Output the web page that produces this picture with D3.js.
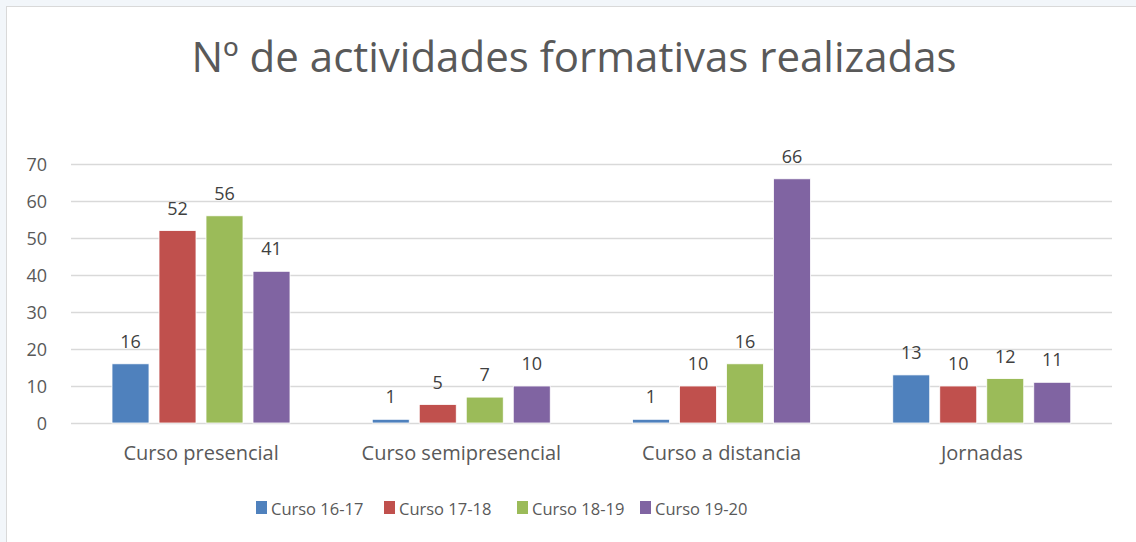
<!DOCTYPE html>
<html>
<head>
<meta charset="utf-8">
<script src="https://cdn.jsdelivr.net/npm/d3@7"></script>
<style>
body { margin:0; padding:0; background:#f2f6fa; }
svg text { font-family: "Open Sans", "Liberation Sans", sans-serif; }
</style>
</head>
<body>
<div id="chart"></div>
<script>
// data
var categories = ["Curso presencial", "Curso semipresencial", "Curso a distancia", "Jornadas"];
var seriesNames = ["Curso 16-17", "Curso 17-18", "Curso 18-19", "Curso 19-20"];
var curso1617 = [16, 1, 1, 13];
var curso1718 = [52, 5, 10, 10];
var curso1819 = [56, 7, 16, 12];
var curso1920 = [41, 10, 66, 11];
var yTicks = [0, 10, 20, 30, 40, 50, 60, 70];
var colors = ["#4f81bd", "#c0504d", "#9bbb59", "#8064a2"];

var allSeries = [curso1617, curso1718, curso1819, curso1920];

var W = 1136, H = 542;
var svg = d3.select("#chart").append("svg")
  .attr("width", W).attr("height", H)
  .style("display", "block");

// white chart area with gray border
svg.append("rect")
  .attr("x", 6.5).attr("y", 6.5)
  .attr("width", W).attr("height", H)
  .attr("fill", "white")
  .attr("stroke", "#d9d9d9");

svg.append("text")
  .attr("x", 574).attr("y", 72)
  .attr("text-anchor", "middle")
  .attr("font-size", "42px")
  .attr("fill", "#595959")
  .text("Nº de actividades formativas realizadas");

var plotLeft = 71, plotRight = 1112, plotTop = 164, plotBottom = 423;

var x0 = d3.scaleBand().domain(categories).range([plotLeft, plotRight]);
var x1 = d3.scaleBand().domain(seriesNames)
  .range([41, 219]).paddingInner(0.213);
var y = d3.scaleLinear().domain([0, 70]).range([plotBottom, plotTop]);

// gridlines
svg.append("g").selectAll("line")
  .data(yTicks)
  .enter().append("line")
  .attr("x1", plotLeft).attr("x2", plotRight)
  .attr("y1", function(d){ return Math.round(y(d)) + 0.5; })
  .attr("y2", function(d){ return Math.round(y(d)) + 0.5; })
  .attr("stroke", "#d9d9d9")
  .attr("stroke-width", 1.5);

// y tick labels
svg.append("g").selectAll("text")
  .data(yTicks)
  .enter().append("text")
  .attr("x", 47)
  .attr("y", function(d){ return y(d) + 6.5; })
  .attr("text-anchor", "end")
  .attr("font-size", "18px")
  .attr("fill", "#595959")
  .text(function(d){ return d; });

// bars
var groups = svg.append("g").selectAll("g")
  .data(categories)
  .enter().append("g")
  .attr("transform", function(d){ return "translate(" + x0(d) + ",0)"; });

groups.selectAll("rect")
  .data(function(d, i){ return seriesNames.map(function(s, j){ return {s: s, v: allSeries[j][i], j: j}; }); })
  .enter().append("rect")
  .attr("x", function(d){ return x1(d.s); })
  .attr("y", function(d){ return y(d.v); })
  .attr("width", x1.bandwidth())
  .attr("height", function(d){ return plotBottom - y(d.v); })
  .attr("fill", function(d){ return colors[d.j]; })
  .attr("stroke", "white")
  .attr("stroke-width", 0.8);

groups.selectAll("text")
  .data(function(d, i){ return seriesNames.map(function(s, j){ return {s: s, v: allSeries[j][i]}; }); })
  .enter().append("text")
  .attr("x", function(d){ return x1(d.s) + x1.bandwidth() / 2; })
  .attr("y", function(d){ return y(d.v) - 16; })
  .attr("text-anchor", "middle")
  .attr("font-size", "18px")
  .attr("fill", "#404040")
  .text(function(d){ return d.v; });

// category labels
svg.append("g").selectAll("text")
  .data(categories)
  .enter().append("text")
  .attr("x", function(d){ return x0(d) + x0.bandwidth() / 2; })
  .attr("y", 460)
  .attr("text-anchor", "middle")
  .attr("font-size", "20px")
  .attr("fill", "#595959")
  .text(function(d){ return d; });

// legend
var legendX = [256, 384, 517, 640];
var leg = svg.append("g").selectAll("g")
  .data(seriesNames)
  .enter().append("g")
  .attr("transform", function(d, i){ return "translate(" + legendX[i] + ",501)"; });
leg.append("rect")
  .attr("width", 11).attr("height", 13)
  .attr("fill", function(d, i){ return colors[i]; });
leg.append("text")
  .attr("x", 15).attr("y", 13.5)
  .attr("font-size", "16.5px")
  .attr("fill", "#595959")
  .text(function(d){ return d; });
</script>
</body>
</html>
